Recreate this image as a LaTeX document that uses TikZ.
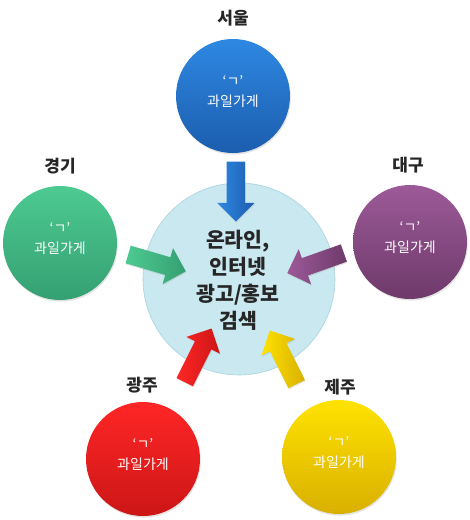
\documentclass[tikz,border=0pt]{standalone}
\usepackage{fontspec}
\newfontfamily\krfont{Noto Sans CJK KR}
\usetikzlibrary{shapes.arrows, shadows}
\definecolor{hubfill}{HTML}{C9E8F0}
\definecolor{hubline}{HTML}{A6D3DF}
\definecolor{inktext}{HTML}{262626}
\definecolor{seoultop}{HTML}{2E88E2}
\definecolor{seoulbot}{HTML}{1C5DAE}
\definecolor{ggtop}{HTML}{4DCA91}
\definecolor{ggbot}{HTML}{35A072}
\definecolor{dgtop}{HTML}{9C5A98}
\definecolor{dgbot}{HTML}{6E3A6A}
\definecolor{gjtop}{HTML}{FF2626}
\definecolor{gjbot}{HTML}{CC1616}
\definecolor{jjtop}{HTML}{FFE200}
\definecolor{jjbot}{HTML}{D9B000}

\begin{document}
\begin{tikzpicture}[
  x=1pt, y=-1pt,
  spot/.style 2 args={
    circle, minimum size=114pt, inner sep=0pt,
    top color=#1, bottom color=#2,
    drop shadow={opacity=0.22, shadow xshift=0.8pt, shadow yshift=-1.6pt}},
  hub/.style={circle, minimum size=192pt, inner sep=0pt,
    fill=hubfill, draw=hubline, line width=0.6pt},
  city/.style={font=\krfont\bfseries\fontsize{17}{20}\selectfont, text=inktext},
  shop/.style={font=\krfont\fontsize{14}{20}\selectfont, text=white, align=center},
  feed/.style 2 args={
    single arrow, minimum height=60pt, minimum width=37pt,
    single arrow head extend=9.5pt, inner xsep=0pt, inner ysep=9pt,
    text height=0pt, text depth=0pt,
    sloped, allow upside down, left color=#1, right color=#2,
    drop shadow={opacity=0.2, shadow xshift=0.6pt, shadow yshift=-1.2pt}},
]
\useasboundingbox (0,0) rectangle (470,520);

% === Centre circle ===
\node[hub] (hub) at (239,279) {};
\node[font=\krfont\bfseries\fontsize{20.5}{27}\selectfont, text=inktext, align=center]
  at (238,280) {온라인,\\인터넷\\광고/홍보\\검색};

% === Seoul (top) ===
\node[spot={seoultop}{seoulbot}] (seoul) at (233,96) {};
\node[city] at (233,18) {서울};
\node[shop] at (233,92) {‘ㄱ’\\과일가게};

% === Gyeonggi (left) ===
\node[spot={ggtop}{ggbot}] (gyeonggi) at (60,243) {};
\node[city] at (60,166) {경기};
\node[shop] at (60,239) {‘ㄱ’\\과일가게};

% === Daegu (right) ===
\node[spot={dgtop}{dgbot}] (daegu) at (410,242) {};
\node[city] at (408,165) {대구};
\node[shop] at (410,238) {‘ㄱ’\\과일가게};

% === Gwangju (bottom left) ===
\node[spot={gjtop}{gjbot}] (gwangju) at (143,459) {};
\node[city] at (142,385) {광주};
\node[shop] at (143,455) {‘ㄱ’\\과일가게};

% === Jeju (bottom right) ===
\node[spot={jjtop}{jjbot}] (jeju) at (339,457) {};
\node[city] at (340,387) {제주};
\node[shop] at (339,453) {‘ㄱ’\\과일가게};

% === Block arrows towards the centre ===
\path (seoul.center) -- (hub.center)
  node[feed={seoultop}{seoulbot}, pos=0.486, rotate=-1.9, xshift=2pt] {};
\path (gyeonggi.center) -- (hub.center)
  node[feed={ggtop}{ggbot}, pos=0.517, rotate=-4.9] {};
\path (daegu.center) -- (hub.center)
  node[feed={dgtop}{dgbot}, pos=0.527, rotate=7.3] {};
\path (gwangju.center) -- (hub.center)
  node[feed={gjtop}{gjbot}, pos=0.553, rotate=1.5] {};
\path (jeju.center) -- (hub.center)
  node[feed={jjtop}{jjbot}, pos=0.537, rotate=-2.7] {};

\end{tikzpicture}
\end{document}
